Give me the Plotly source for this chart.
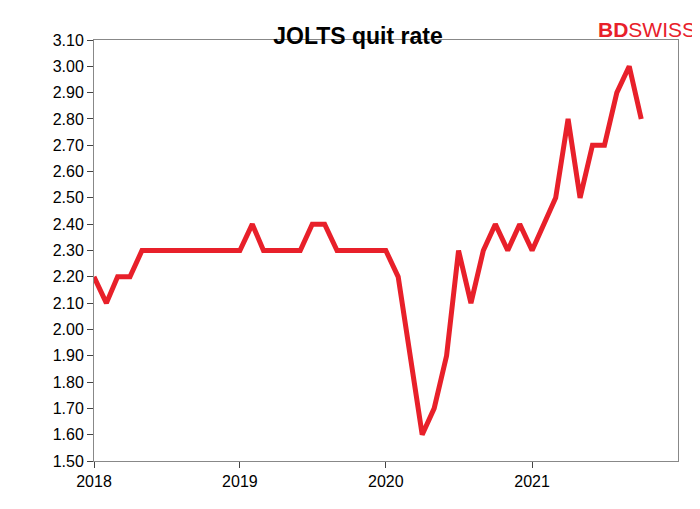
import pandas as pd
import plotly.graph_objects as go

months = pd.date_range("2018-01-01", "2021-10-01", freq="MS")
quit_rate = [2.2, 2.1, 2.2, 2.2, 2.3, 2.3, 2.3, 2.3, 2.3, 2.3, 2.3, 2.3,
             2.3, 2.4, 2.3, 2.3, 2.3, 2.3, 2.4, 2.4, 2.3, 2.3, 2.3, 2.3,
             2.3, 2.2, 1.9, 1.6, 1.7, 1.9, 2.3, 2.1, 2.3, 2.4, 2.3, 2.4,
             2.3, 2.4, 2.5, 2.8, 2.5, 2.7, 2.7, 2.9, 3.0, 2.8]
year_ticks = ["2018-01-01", "2019-01-01", "2020-01-01", "2021-01-01"]
year_labels = ["2018", "2019", "2020", "2021"]

fig = go.Figure(go.Scatter(x=months, y=quit_rate, mode="lines",
                           line=dict(color="#e8202a", width=5)))

fig.update_layout(
    width=700, height=509, plot_bgcolor="white", paper_bgcolor="white",
    margin=dict(l=86, r=30, t=32, b=56), showlegend=False,
    font=dict(family="Liberation Sans, Arial", size=16, color="black"),
    title=dict(text="<b>JOLTS quit rate</b>", x=0.5, xanchor="center",
               y=0.96, font=dict(size=23)),
    xaxis=dict(range=["2018-01-01", "2022-01-01"], tickvals=year_ticks,
               ticktext=year_labels, ticks="outside", ticklen=6,
               showgrid=False, showline=True, linecolor="#888", mirror=True),
    yaxis=dict(range=[1.5, 3.1], dtick=0.1, tickformat=".2f",
               ticks="outside", ticklen=6, showgrid=False,
               showline=True, linecolor="#888", mirror=True),
    annotations=[dict(text="<b>BD</b>SWISS", x=690, y=509 - 8, xref="paper",
                      yref="paper", xanchor="right", yanchor="top",
                      showarrow=False,
                      font=dict(size=21, color="#e8202a"))],
)
fig.layout.annotations[0].update(xref="paper", yref="paper",
                                 x=(690 - 86) / 584, y=1 + 24 / 421)

fig.write_html("out.html")
